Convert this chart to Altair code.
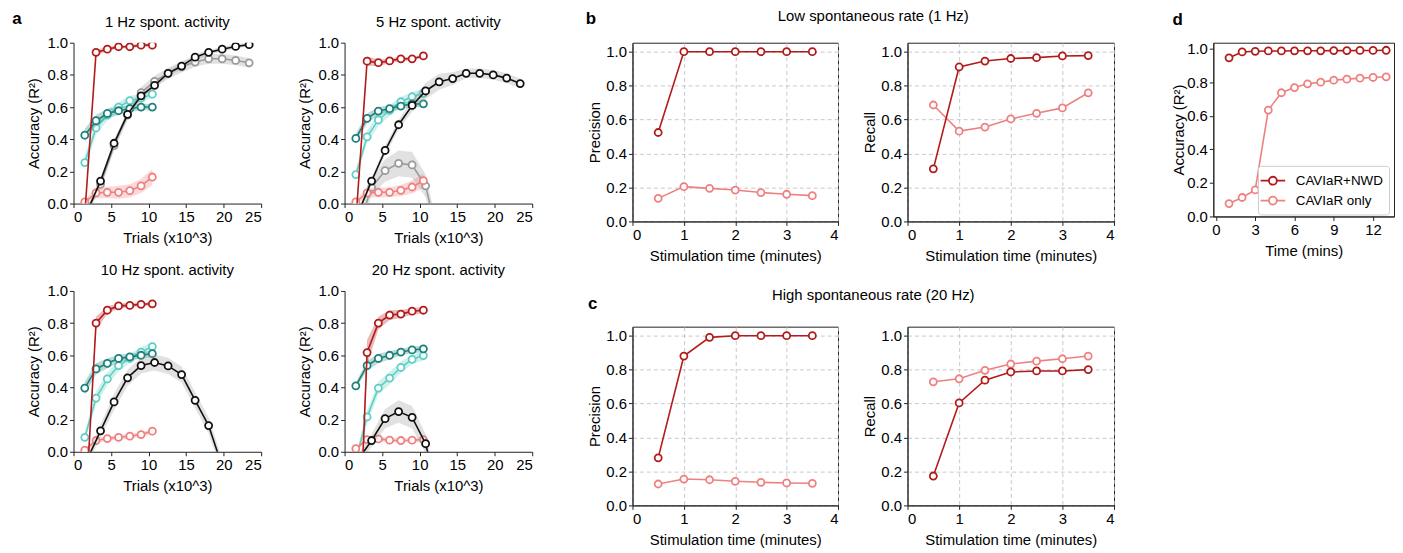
import altair as alt
import pandas as pd

FONT = "Liberation Sans"

RED = "#b31b1b"
PINK = "#f08080"
DTEAL = "#1b827b"
LTEAL = "#5fcfc6"
BLACK = "#111111"
GRAY = "#9a9a9a"

# ---------------- panel a ----------------
A_TITLES = ["1 Hz spont. activity", "5 Hz spont. activity",
            "10 Hz spont. activity", "20 Hz spont. activity"]
X_SHORT = [1.5, 3.0, 4.5, 6.0, 7.5, 9.0, 10.5]
X_LONG = [1.8, 3.6, 5.4, 7.2, 9.0, 10.8, 12.6, 14.4, 16.2, 18.0, 19.8, 21.6, 23.4]
A_XTICKS = [0, 5, 10, 15, 20, 25]
A_YTICKS = [0.0, 0.2, 0.4, 0.6, 0.8, 1.0]

H1_GRAY = [-0.05, 0.12, 0.36, 0.55, 0.69, 0.76, 0.81, 0.85, 0.88, 0.90, 0.90, 0.89, 0.875]
H1_GRAY_ERR = [0.02, 0.03, 0.03, 0.03, 0.035, 0.035, 0.035, 0.035, 0.03, 0.03, 0.03, 0.03, 0.03]
H1_BLACK = [-0.05, 0.14, 0.375, 0.555, 0.67, 0.735, 0.81, 0.855, 0.91, 0.94, 0.96, 0.977, 0.988]
H1_BLACK_ERR = [0.02, 0.02, 0.02, 0.02, 0.02, 0.02, 0.02, 0.02, 0.02, 0.015, 0.015, 0.015, 0.01]
H1_LTEAL = [0.255, 0.47, 0.55, 0.60, 0.64, 0.655, 0.68]
H1_LTEAL_ERR = [0.04, 0.04, 0.035, 0.03, 0.03, 0.025, 0.025]
H1_DTEAL = [0.425, 0.515, 0.56, 0.577, 0.59, 0.60, 0.60]
H1_DTEAL_ERR = [0.04, 0.035, 0.03, 0.025, 0.02, 0.02, 0.02]
H1_PINK = [0.01, 0.066, 0.07, 0.07, 0.08, 0.11, 0.165]
H1_PINK_ERR = [0.01, 0.035, 0.035, 0.04, 0.04, 0.045, 0.05]
H1_RED = [-0.07, 0.94, 0.96, 0.975, 0.975, 0.985, 0.985]
H1_RED_ERR = [0.02, 0.015, 0.015, 0.01, 0.01, 0.01, 0.01]

H5_GRAY = [-0.15, 0.10, 0.205, 0.25, 0.24, 0.11, -0.25]
H5_GRAY_ERR = [0.04, 0.05, 0.07, 0.08, 0.08, 0.07, 0.06]
H5_BLACK = [-0.06, 0.14, 0.33, 0.49, 0.61, 0.70, 0.757, 0.777, 0.81, 0.81, 0.80, 0.78, 0.746]
H5_BLACK_ERR = [0.02, 0.02, 0.03, 0.03, 0.04, 0.05, 0.05, 0.04, 0.03, 0.03, 0.03, 0.03, 0.03]
H5_LTEAL = [0.18, 0.415, 0.52, 0.58, 0.633, 0.664, 0.685]
H5_LTEAL_ERR = [0.03, 0.04, 0.04, 0.035, 0.03, 0.03, 0.03]
H5_DTEAL = [0.405, 0.53, 0.575, 0.59, 0.606, 0.62, 0.62]
H5_DTEAL_ERR = [0.03, 0.03, 0.025, 0.02, 0.02, 0.02, 0.02]
H5_PINK = [0.01, 0.066, 0.07, 0.07, 0.082, 0.103, 0.142]
H5_PINK_ERR = [0.01, 0.03, 0.03, 0.03, 0.035, 0.04, 0.045]
H5_RED = [-0.11, 0.885, 0.876, 0.887, 0.90, 0.90, 0.918]
H5_RED_ERR = [0.02, 0.03, 0.02, 0.015, 0.015, 0.01, 0.01]

H10_BLACK = [-0.05, 0.13, 0.31, 0.46, 0.536, 0.555, 0.534, 0.48, 0.32, 0.163, -0.09]
H10_BLACK_ERR = [0.03, 0.04, 0.05, 0.05, 0.05, 0.05, 0.05, 0.05, 0.05, 0.05, 0.05]
H10_LTEAL = [0.09, 0.334, 0.453, 0.536, 0.58, 0.62, 0.654]
H10_LTEAL_ERR = [0.03, 0.04, 0.04, 0.035, 0.03, 0.03, 0.03]
H10_DTEAL = [0.396, 0.515, 0.55, 0.58, 0.59, 0.60, 0.61]
H10_DTEAL_ERR = [0.04, 0.035, 0.03, 0.025, 0.02, 0.02, 0.02]
H10_PINK = [0.01, 0.07, 0.082, 0.09, 0.097, 0.107, 0.128]
H10_PINK_ERR = [0.01, 0.015, 0.015, 0.015, 0.015, 0.015, 0.015]
H10_RED = [-0.44, 0.80, 0.88, 0.907, 0.91, 0.917, 0.92]
H10_RED_ERR = [0.02, 0.04, 0.025, 0.015, 0.015, 0.01, 0.01]

H20_BLACK = [-0.05, 0.07, 0.206, 0.25, 0.214, 0.05, -0.3]
H20_BLACK_ERR = [0.03, 0.04, 0.06, 0.07, 0.07, 0.06, 0.05]
H20_LTEAL = [-0.05, 0.217, 0.396, 0.458, 0.524, 0.575, 0.598]
H20_LTEAL_ERR = [0.03, 0.04, 0.04, 0.04, 0.035, 0.03, 0.03]
H20_DTEAL = [0.41, 0.536, 0.58, 0.60, 0.62, 0.633, 0.64]
H20_DTEAL_ERR = [0.02, 0.03, 0.03, 0.025, 0.02, 0.02, 0.02]
H20_PINK = [0.02, 0.076, 0.08, 0.072, 0.07, 0.072, 0.076]
H20_PINK_ERR = [0.01, 0.015, 0.015, 0.015, 0.015, 0.015, 0.015]
H20_RED = [-1.12, 0.617, 0.80, 0.85, 0.856, 0.874, 0.88]
H20_RED_ERR = [0.05, 0.08, 0.04, 0.03, 0.025, 0.02, 0.02]

# ---------------- panels b, c ----------------
ROW_TITLES = ["Low spontaneous rate (1 Hz)", "High spontaneous rate (20 Hz)"]
BC_X = [0.5, 1.0, 1.5, 2.0, 2.5, 3.0, 3.5]
BC_XTICKS = [0, 1, 2, 3, 4]
BC_YTICKS = [0.0, 0.2, 0.4, 0.6, 0.8, 1.0]
B_PREC_NWD = [0.524, 1.0, 1.0, 1.0, 1.0, 1.0, 1.0]
B_PREC_ONLY = [0.136, 0.205, 0.195, 0.185, 0.17, 0.16, 0.152]
B_REC_NWD = [0.31, 0.91, 0.945, 0.96, 0.965, 0.975, 0.977]
B_REC_ONLY = [0.686, 0.532, 0.556, 0.604, 0.637, 0.669, 0.758]
C_PREC_NWD = [0.28, 0.88, 0.99, 1.0, 1.0, 1.0, 1.0]
C_PREC_ONLY = [0.126, 0.155, 0.151, 0.142, 0.136, 0.132, 0.13]
C_REC_NWD = [0.173, 0.604, 0.738, 0.786, 0.792, 0.792, 0.80]
C_REC_ONLY = [0.728, 0.746, 0.796, 0.833, 0.85, 0.864, 0.88]

# ---------------- panel d ----------------
D_LABELS = ["CAVIaR+NWD", "CAVIaR only"]
D_X = [1, 2, 3, 4, 5, 6, 7, 8, 9, 10, 11, 12, 13]
D_XTICKS = [0, 3, 6, 9, 12]
D_NWD = [0.945, 0.98, 0.984, 0.986, 0.986, 0.987, 0.987, 0.987, 0.988, 0.988, 0.989, 0.989, 0.99]
D_ONLY = [0.077, 0.113, 0.158, 0.634, 0.737, 0.768, 0.79, 0.80, 0.812, 0.818, 0.824, 0.828, 0.832]

R2_TITLE = "Accuracy (R\u00b2)"

# layout helpers (pixels)
AW, AH = 189, 162
BW, BH = 207, 180
DW, DH = 182, 175
GAP_A_COL, GAP_A_ROW = 84, 88
GAP_B_COL, GAP_B_ROW = 70, 106
GAP_A_B, GAP_B_D = 100, 98
OUTER = 25
GHOST_TOP = -35
GHOST_LEFT = -62
TXT = 15


def ghost(x1, x2):
    # invisible rule that fixes each column's outer bounds for the layout
    return alt.Chart(pd.DataFrame({"g": [0]})).mark_rule(
        color="white", opacity=0, strokeWidth=1).encode(
        x=alt.value(x1), x2=alt.value(x2), y=alt.value(GHOST_TOP))


def pts_mark(color):
    return dict(shape="circle", filled=True, fill="white", stroke=color,
                size=50, strokeWidth=1.8, opacity=1, clip=True)


def text_layer(txt, dx, dy, size=17, weight="bold"):
    return alt.Chart(pd.DataFrame({"t": [txt]})).mark_text(
        font=FONT, fontSize=size, fontWeight=weight, align="center",
        baseline="middle", color="#000").encode(
        text="t:N", x=alt.value(dx), y=alt.value(dy))


def a_panel(title, series, extra=()):
    xs = alt.Scale(domain=[0, 25], nice=False)
    ys = alt.Scale(domain=[0, 1], nice=False)
    xax = alt.Axis(values=A_XTICKS, title="Trials (x10^3)", grid=False, format="d")
    yax = alt.Axis(values=A_YTICKS, title=R2_TITLE, grid=False, format=".1f", titlePadding=5)
    layers = []
    for x, y, err, color, bcolor in series:
        df = pd.DataFrame({"x": x, "y": y,
                           "lo": [v - e for v, e in zip(y, err)],
                           "hi": [v + e for v, e in zip(y, err)]})
        base = alt.Chart(df)
        X = alt.X("x:Q", scale=xs, axis=xax)
        layers.append(base.mark_area(color=bcolor, opacity=0.3, clip=True).encode(
            x=X, y=alt.Y("lo:Q", scale=ys, axis=yax, stack=None), y2="hi:Q"))
        layers.append(base.mark_line(color=color, strokeWidth=1.6, clip=True).encode(
            x=X, y=alt.Y("y:Q", scale=ys, axis=yax)))
        layers.append(base.mark_point(**pts_mark(color)).encode(
            x=X, y=alt.Y("y:Q", scale=ys, axis=yax)))
    layers.append(text_layer(title, AW / 2, -21, size=TXT, weight="normal"))
    layers.extend(extra)
    return alt.layer(*layers).properties(width=AW, height=AH)


def bc_panel(ytitle, nwd, only, extra=()):
    xs = alt.Scale(domain=[0, 4], nice=False)
    ys = alt.Scale(domain=[0, 1.053], nice=False)
    xax = alt.Axis(values=BC_XTICKS, title="Stimulation time (minutes)", grid=True, format="d")
    yax = alt.Axis(values=BC_YTICKS, title=ytitle, grid=True, format=".1f", titlePadding=3)
    layers = []
    for y, color in [(only, PINK), (nwd, RED)]:
        df = pd.DataFrame({"x": BC_X, "y": y})
        base = alt.Chart(df)
        enc = dict(x=alt.X("x:Q", scale=xs, axis=xax), y=alt.Y("y:Q", scale=ys, axis=yax))
        layers.append(base.mark_line(color=color, strokeWidth=1.6).encode(**enc))
        layers.append(base.mark_point(**pts_mark(color)).encode(**enc))
    layers.extend(extra)
    return alt.layer(*layers).properties(
        width=BW, height=BH,
        view=alt.ViewBackground(stroke="#222", strokeWidth=1))


# legend position (root coordinates, origin near the 1 Hz panel's plot corner)
LEGEND_X, LEGEND_Y = 1193, 124


def d_panel():
    rows = []
    for lab, ys_ in zip(D_LABELS, [D_NWD, D_ONLY]):
        for x, y in zip(D_X, ys_):
            rows.append({"x": x, "y": y, "s": lab})
    df = pd.DataFrame(rows)
    xs = alt.Scale(domain=[-0.2, 13.6], nice=False)
    ys = alt.Scale(domain=[0, 1.035], nice=False)
    xax = alt.Axis(values=D_XTICKS, title="Time (mins)", grid=False, format="d")
    yax = alt.Axis(values=A_YTICKS, title=R2_TITLE, grid=False, format=".1f", titlePadding=0)
    cscale = alt.Scale(domain=D_LABELS, range=[RED, PINK])
    leg = alt.Legend(
        title=None, orient="none", legendX=LEGEND_X, legendY=LEGEND_Y,
        symbolType="M-1.55,0L-0.5,0M0.5,0L1.55,0M0.5,0A0.5,0.5,0,1,1,-0.5,0A0.5,0.5,0,1,1,0.5,0",
        symbolSize=256, symbolStrokeWidth=1.8, symbolFillColor="white",
        labelFontSize=13.5, labelFont=FONT, labelColor="#000", labelOffset=14,
        rowPadding=3, padding=6, strokeColor="#cccccc", fillColor="white",
        cornerRadius=3)
    enc = dict(x=alt.X("x:Q", scale=xs, axis=xax), y=alt.Y("y:Q", scale=ys, axis=yax))
    base = alt.Chart(df)
    line = base.mark_line(strokeWidth=1.6).encode(
        color=alt.Color("s:N", scale=cscale, sort=D_LABELS, legend=leg), **enc)
    pts = base.mark_point(shape="circle", filled=True, fill="white", size=50,
                          strokeWidth=1.8, opacity=1).encode(
        stroke=alt.Stroke("s:N", scale=cscale, sort=D_LABELS, legend=leg), **enc)
    return alt.layer(line, pts, text_layer("d", -36, -23), ghost(-55, DW)).properties(
        width=DW, height=DH,
        view=alt.ViewBackground(stroke="#222", strokeWidth=1))


A_SERIES = [
    [(X_LONG, H1_GRAY, H1_GRAY_ERR, GRAY, GRAY), (X_SHORT, H1_LTEAL, H1_LTEAL_ERR, LTEAL, LTEAL),
     (X_SHORT, H1_DTEAL, H1_DTEAL_ERR, DTEAL, DTEAL), (X_SHORT, H1_PINK, H1_PINK_ERR, PINK, PINK),
     (X_LONG, H1_BLACK, H1_BLACK_ERR, BLACK, GRAY), (X_SHORT, H1_RED, H1_RED_ERR, RED, RED)],
    [(X_LONG[:7], H5_GRAY, H5_GRAY_ERR, GRAY, GRAY), (X_SHORT, H5_LTEAL, H5_LTEAL_ERR, LTEAL, LTEAL),
     (X_SHORT, H5_DTEAL, H5_DTEAL_ERR, DTEAL, DTEAL), (X_SHORT, H5_PINK, H5_PINK_ERR, PINK, PINK),
     (X_LONG, H5_BLACK, H5_BLACK_ERR, BLACK, GRAY), (X_SHORT, H5_RED, H5_RED_ERR, RED, RED)],
    [(X_SHORT, H10_LTEAL, H10_LTEAL_ERR, LTEAL, LTEAL),
     (X_SHORT, H10_DTEAL, H10_DTEAL_ERR, DTEAL, DTEAL), (X_SHORT, H10_PINK, H10_PINK_ERR, PINK, PINK),
     (X_LONG[:11], H10_BLACK, H10_BLACK_ERR, BLACK, GRAY), (X_SHORT, H10_RED, H10_RED_ERR, RED, RED)],
    [(X_SHORT, H20_LTEAL, H20_LTEAL_ERR, LTEAL, LTEAL),
     (X_SHORT, H20_DTEAL, H20_DTEAL_ERR, DTEAL, DTEAL), (X_SHORT, H20_PINK, H20_PINK_ERR, PINK, PINK),
     (X_LONG[:7], H20_BLACK, H20_BLACK_ERR, BLACK, GRAY), (X_SHORT, H20_RED, H20_RED_ERR, RED, RED)],
]

a_right_plot = 2 * AW + GAP_A_COL
a1 = a_panel(A_TITLES[0], A_SERIES[0],
             extra=[text_layer("a", -57, -24),
                    ghost(GHOST_LEFT, a_right_plot + GAP_A_B - OUTER - 55)])
a5 = a_panel(A_TITLES[1], A_SERIES[1])
a10 = a_panel(A_TITLES[2], A_SERIES[2])
a20 = a_panel(A_TITLES[3], A_SERIES[3])
colA = alt.concat(a1, a5, a10, a20, columns=2, bounds="flush",
                  spacing={"row": GAP_A_ROW, "column": GAP_A_COL})

b_right_plot = BW + GAP_B_COL + BW + 1
row_mid = b_right_plot / 2
bP = bc_panel("Precision", B_PREC_NWD, B_PREC_ONLY, extra=[
    text_layer("b", -42, -24),
    text_layer(ROW_TITLES[0], row_mid, -27, size=TXT, weight="normal"),
    ghost(-55, b_right_plot + GAP_B_D - OUTER - 55)])
bR = bc_panel("Recall", B_REC_NWD, B_REC_ONLY).properties(width=BW + 1)
cP = bc_panel("Precision", C_PREC_NWD, C_PREC_ONLY, extra=[
    text_layer("c", -40, -23),
    text_layer(ROW_TITLES[1], row_mid, -32, size=TXT, weight="normal")])
cR = bc_panel("Recall", C_REC_NWD, C_REC_ONLY).properties(width=BW + 1)
colBC = alt.concat(bP, bR, cP, cR, columns=2, bounds="flush",
                   spacing={"row": GAP_B_ROW, "column": GAP_B_COL})

chart = alt.hconcat(colA, colBC, d_panel(), spacing=OUTER).properties(
    padding={"left": 4, "top": -3, "right": 0, "bottom": 5}
).configure(font=FONT).configure_view(strokeWidth=0).configure_axis(
    labelFont=FONT, titleFont=FONT, labelFontSize=TXT, titleFontSize=TXT,
    labelColor="#000", titleColor="#000", titleFontWeight="normal",
    domainColor="#222", tickColor="#222", tickSize=4, labelPadding=2,
    titlePadding=6, gridDash=[4, 3], gridColor="#bbbbbb", gridWidth=0.8,
)

chart.save("out.html", embed_options={"renderer": "svg", "actions": False})
